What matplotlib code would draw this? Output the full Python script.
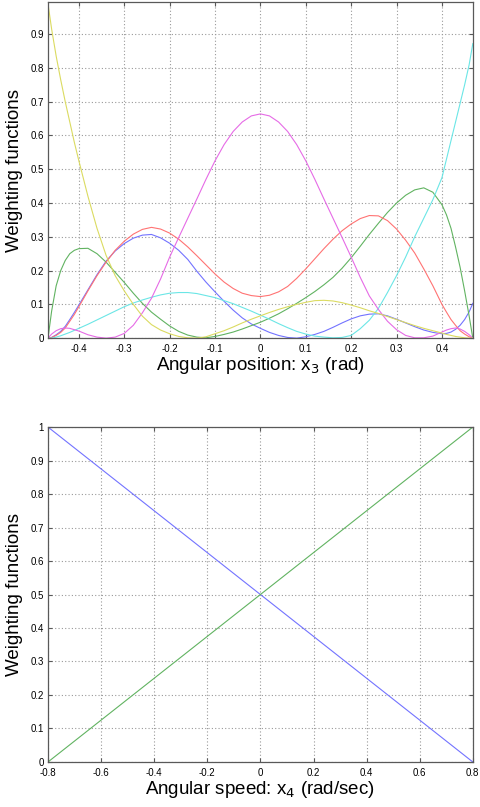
import matplotlib
matplotlib.use("Agg")
import matplotlib.pyplot as plt
import numpy as np

# angular position grid (rad) and weighting functions
x3 = [-0.468, -0.46, -0.45, -0.44, -0.43, -0.42, -0.41, -0.40, -0.38, -0.36,
      -0.34, -0.32, -0.30, -0.28, -0.26, -0.24, -0.22, -0.20, -0.18, -0.16,
      -0.14, -0.12, -0.10, -0.08, -0.06, -0.04, -0.02, 0.0, 0.02, 0.04,
      0.06, 0.08, 0.10, 0.12, 0.14, 0.16, 0.18, 0.20, 0.22, 0.24,
      0.26, 0.28, 0.30, 0.32, 0.34, 0.36, 0.38, 0.40, 0.41, 0.42,
      0.43, 0.44, 0.45, 0.46, 0.468]

w_blue = [0.0, 0.002, 0.01, 0.02, 0.035, 0.055, 0.076, 0.098, 0.143, 0.188,
          0.228, 0.258, 0.28, 0.296, 0.305, 0.307, 0.297, 0.281, 0.26, 0.233,
          0.198, 0.166, 0.137, 0.109, 0.083, 0.06, 0.042, 0.029, 0.017, 0.008,
          0.002, 0.0, 0.004, 0.011, 0.02, 0.032, 0.045, 0.057, 0.066, 0.071,
          0.072, 0.066, 0.056, 0.045, 0.034, 0.024, 0.017, 0.013, 0.014, 0.018,
          0.026, 0.038, 0.055, 0.078, 0.103]

w_green = [0.0, 0.08, 0.155, 0.2, 0.23, 0.25, 0.26, 0.265, 0.266, 0.25,
           0.225, 0.195, 0.165, 0.133, 0.103, 0.077, 0.056, 0.036, 0.02, 0.009,
           0.003, 0.001, 0.005, 0.011, 0.018, 0.027, 0.037, 0.047, 0.059, 0.072,
           0.087, 0.103, 0.12, 0.138, 0.158, 0.18, 0.207, 0.238, 0.272, 0.307,
           0.34, 0.372, 0.4, 0.423, 0.439, 0.445, 0.432, 0.395, 0.365, 0.325,
           0.27, 0.21, 0.14, 0.065, 0.0]

w_red = [0.0, 0.002, 0.008, 0.017, 0.03, 0.05, 0.07, 0.093, 0.14, 0.185,
         0.225, 0.26, 0.287, 0.308, 0.322, 0.328, 0.323, 0.311, 0.293, 0.27,
         0.244, 0.217, 0.19, 0.166, 0.147, 0.133, 0.126, 0.123, 0.127, 0.137,
         0.153, 0.177, 0.205, 0.235, 0.265, 0.293, 0.318, 0.338, 0.354, 0.363,
         0.362, 0.348, 0.323, 0.29, 0.252, 0.205, 0.155, 0.1, 0.077, 0.055,
         0.038, 0.022, 0.012, 0.004, 0.0]

w_cyan = [0.0, 0.0, 0.003, 0.007, 0.012, 0.017, 0.023, 0.029, 0.041, 0.054,
          0.067, 0.08, 0.093, 0.104, 0.113, 0.121, 0.128, 0.133, 0.135, 0.135,
          0.132, 0.126, 0.12, 0.111, 0.102, 0.091, 0.08, 0.068, 0.056, 0.043,
          0.031, 0.02, 0.012, 0.006, 0.003, 0.001, 0.002, 0.008, 0.028, 0.053,
          0.088, 0.135, 0.185, 0.24, 0.3, 0.355, 0.41, 0.475, 0.53, 0.585,
          0.64, 0.695, 0.75, 0.81, 0.872]

w_magenta = [0.0, 0.012, 0.022, 0.028, 0.03, 0.029, 0.025, 0.021, 0.01, 0.003,
             0.0, 0.003, 0.014, 0.038, 0.075, 0.118, 0.175, 0.24, 0.298, 0.355,
             0.412, 0.47, 0.525, 0.573, 0.612, 0.64, 0.658, 0.664, 0.658, 0.64,
             0.612, 0.573, 0.525, 0.47, 0.412, 0.355, 0.298, 0.24, 0.18, 0.125,
             0.085, 0.05, 0.025, 0.008, 0.001, 0.001, 0.006, 0.018, 0.024, 0.028,
             0.03, 0.027, 0.02, 0.01, 0.0]

w_yellow = [0.99, 0.915, 0.835, 0.765, 0.7, 0.64, 0.58, 0.525, 0.42, 0.325,
            0.245, 0.185, 0.14, 0.1, 0.065, 0.04, 0.024, 0.013, 0.005, 0.001,
            0.0, 0.004, 0.013, 0.022, 0.033, 0.045, 0.056, 0.066, 0.076, 0.085,
            0.093, 0.1, 0.106, 0.111, 0.112, 0.11, 0.105, 0.098, 0.09, 0.081,
            0.073, 0.064, 0.055, 0.046, 0.037, 0.029, 0.022, 0.015, 0.011, 0.008,
            0.005, 0.003, 0.001, 0.0, 0.0]

# angular speed (rad/sec), two linear weighting functions
x4 = [-0.8, 0.8]
v_blue = [1.0, 0.0]
v_green = [0.0, 1.0]

plt.rcParams['font.family'] = ['Liberation Sans', 'DejaVu Sans']

c_b = (0.45, 0.45, 1.0)
c_g = (0.38, 0.7, 0.38)
c_r = (1.0, 0.45, 0.45)
c_c = (0.42, 0.9, 0.9)
c_m = (0.9, 0.42, 0.9)
c_y = (0.86, 0.86, 0.38)


def style_axes(ax):
    ax.grid(True, linestyle=(0, (1, 2)), color='0.6', linewidth=0.8)
    ax.tick_params(direction='in', length=3, labelsize=7, top=True, right=True,
                   color='0.35')
    ax.tick_params(axis='x', pad=4)
    ax.tick_params(axis='y', pad=3)
    for s in ax.spines.values():
        s.set_color('0.35')
        s.set_linewidth(0.9)


fig = plt.figure(figsize=(4.8, 8.07), dpi=100)

ax1 = fig.add_axes([0.1, 0.581, 0.885, 0.4164])
lw = 0.8
ax1.plot(x3, w_blue, color=c_b, lw=lw)
ax1.plot(x3, w_green, color=c_g, lw=lw)
ax1.plot(x3, w_red, color=c_r, lw=lw)
ax1.plot(x3, w_cyan, color=c_c, lw=lw)
ax1.plot(x3, w_magenta, color=c_m, lw=lw)
ax1.plot(x3, w_yellow, color=c_y, lw=lw)
ax1.set_xlim(-0.468, 0.468)
ax1.set_ylim(0, 0.995)
ax1.set_xticks([-0.4, -0.3, -0.2, -0.1, 0, 0.1, 0.2, 0.3, 0.4])
ax1.set_xticklabels(['-0.4', '-0.3', '-0.2', '-0.1', '0', '0.1', '0.2', '0.3', '0.4'])
ax1.set_yticks(np.arange(0, 1.0, 0.1))
ax1.set_yticklabels(['0', '0.1', '0.2', '0.3', '0.4', '0.5', '0.6', '0.7', '0.8', '0.9'])
style_axes(ax1)
ax1.set_xlabel('Angular position: x$_3$ (rad)', fontsize=13.5, labelpad=1)
ax1.set_ylabel('Weighting functions', fontsize=13.5, labelpad=5)

ax2 = fig.add_axes([0.1, 0.0558, 0.885, 0.415])
ax2.plot(x4, v_blue, color=c_b, lw=lw)
ax2.plot(x4, v_green, color=c_g, lw=lw)
ax2.set_xlim(-0.8, 0.8)
ax2.set_ylim(0, 1)
ax2.set_xticks([-0.8, -0.6, -0.4, -0.2, 0, 0.2, 0.4, 0.6, 0.8])
ax2.set_xticklabels(['-0.8', '-0.6', '-0.4', '-0.2', '0', '0.2', '0.4', '0.6', '0.8'])
ax2.set_yticks(np.arange(0, 1.01, 0.1))
ax2.set_yticklabels(['0', '0.1', '0.2', '0.3', '0.4', '0.5', '0.6', '0.7', '0.8', '0.9', '1'])
style_axes(ax2)
ax2.set_xlabel('Angular speed: x$_4$ (rad/sec)', fontsize=13.5, labelpad=1)
ax2.set_ylabel('Weighting functions', fontsize=13.5, labelpad=5)

fig.savefig('out.png', dpi=100)
